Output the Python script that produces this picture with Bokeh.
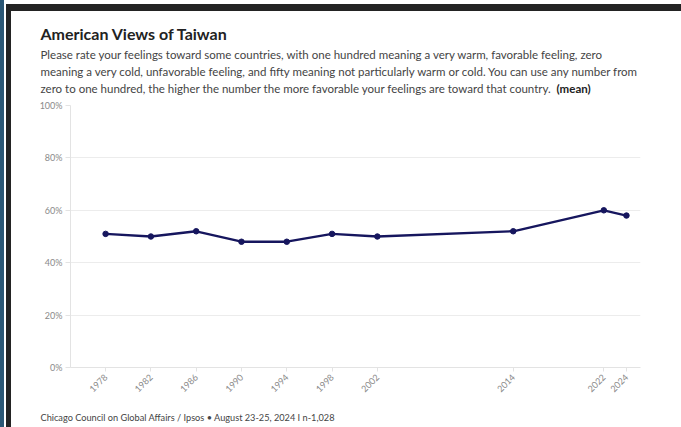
import math
from bokeh.plotting import figure
from bokeh.models import Label, FixedTicker, Range1d, ColumnDataSource
from bokeh.layouts import column
from bokeh.embed import file_html
from bokeh.resources import INLINE

years = [1978, 1982, 1986, 1990, 1994, 1998, 2002, 2014, 2022, 2024]
mean_values = [51, 50, 52, 48, 48, 51, 50, 52, 60, 58]
y_ticks = [0, 20, 40, 60, 80, 100]
y_tick_labels = {0: "0%", 20: "20%", 40: "40%", 60: "60%", 80: "80%", 100: "100%"}

title_text = "American Views of Taiwan"
subtitle_lines = [
    "Please rate your feelings toward some countries, with one hundred meaning a very warm, favorable feeling, zero",
    "meaning a very cold, unfavorable feeling, and fifty meaning not particularly warm or cold.  You can use any number from",
    "zero to one hundred, the higher the number the more favorable your feelings are toward that country.",
]
subtitle_bold = "(mean)"
source_text = "Chicago Council on Global Affairs / Ipsos \u2022 August 23-25, 2024 I n-1,028"

FONT = "Lato"
LINE = "#16165e"
W = 681
HEAD_H, CHART_H, FOOT_H = 97, 303, 27


def text_panel(h):
    f = figure(width=W, height=h, output_backend="svg", toolbar_location=None,
               x_range=Range1d(0, W), y_range=Range1d(h, 0),
               x_axis_type=None, y_axis_type=None,
               min_border=0, min_border_left=0, min_border_right=0,
               min_border_top=0, min_border_bottom=0)
    f.grid.visible = False
    f.outline_line_color = None
    f.border_fill_color = None
    f.background_fill_color = None
    return f


def add_label(f, text, X, Y, size, color, style="normal"):
    f.add_layout(Label(x=X, y=Y, text=text, text_font=FONT, text_font_size=size,
                       text_color=color, text_font_style=style,
                       text_baseline="alphabetic", text_align="left"))


head = text_panel(HEAD_H)
add_label(head, title_text, 40, 33, "16px", "#222222", "bold")
for i, line in enumerate(subtitle_lines):
    add_label(head, line, 40, 54 + 17 * i, "11.5px", "#444444")
add_label(head, subtitle_bold, 556, 88, "11.5px", "#222222", "bold")

p = figure(width=W, height=CHART_H, output_backend="svg", toolbar_location=None,
           x_range=Range1d(1974.9, 2025.24), y_range=Range1d(0, 100),
           min_border_left=70, min_border_right=41, min_border_top=8, min_border_bottom=33)
p.border_fill_color = None
p.background_fill_color = "white"
p.outline_line_color = None

src = ColumnDataSource(dict(x=years, y=mean_values))
p.line("x", "y", source=src, line_color=LINE, line_width=2.3)
p.scatter("x", "y", source=src, size=5.5, fill_color=LINE, line_color=LINE)

p.xgrid.grid_line_color = None
p.ygrid.grid_line_color = "#ececec"
p.ygrid.grid_line_width = 1

p.yaxis.ticker = FixedTicker(ticks=y_ticks)
p.yaxis.major_label_overrides = y_tick_labels
p.yaxis.axis_line_color = "#e3e3e3"
p.yaxis.major_tick_line_color = "#e3e3e3"
p.yaxis.major_tick_out = 5
p.yaxis.major_tick_in = 0
p.yaxis.minor_tick_line_color = None
p.yaxis.major_label_text_font = FONT
p.yaxis.major_label_text_font_size = "9px"
p.yaxis.major_label_text_color = "#8a8a8a"
p.yaxis.major_label_standoff = 3

p.xaxis.ticker = FixedTicker(ticks=years)
p.xaxis.axis_line_color = "#e3e3e3"
p.xaxis.major_tick_line_color = "#e3e3e3"
p.xaxis.major_tick_out = 4
p.xaxis.major_tick_in = 0
p.xaxis.minor_tick_line_color = None
p.xaxis.major_label_orientation = math.pi / 4
p.xaxis.major_label_text_font = FONT
p.xaxis.major_label_text_font_size = "9px"
p.xaxis.major_label_text_color = "#8a8a8a"
p.xaxis.major_label_standoff = 4

foot = text_panel(FOOT_H)
add_label(foot, source_text, 40, 17, "9.2px", "#444444")

layout = column(column(head), column(p), column(foot), spacing=0)
layout.styles = {
    "background-color": "white",
    "background-image": "linear-gradient(#232323,#232323), linear-gradient(#232323,#232323), linear-gradient(#2b5775,#2b5775)",
    "background-position": "6px 4px, 6px 4px, 0px 0px",
    "background-size": "675px 7px, 5px 423px, 4px 427px",
    "background-repeat": "no-repeat",
}

open("out.html", "w").write(file_html(layout, INLINE))
